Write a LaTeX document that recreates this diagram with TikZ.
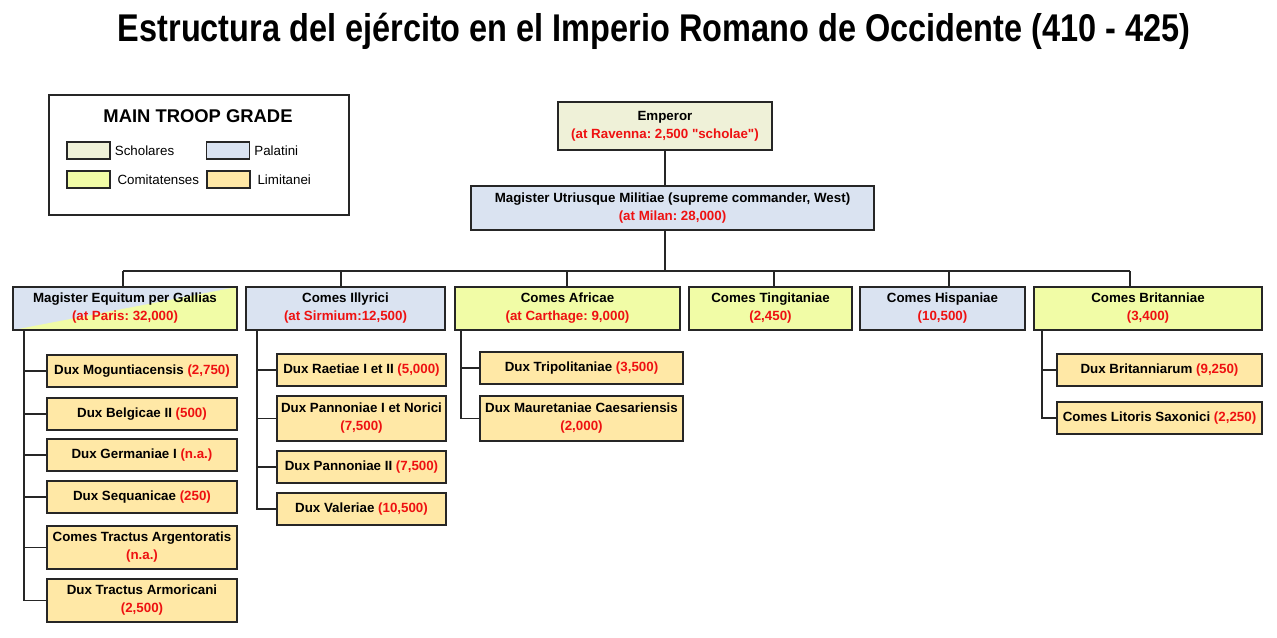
\documentclass[tikz,border=0pt]{standalone}
\usepackage{fontspec}
\setmainfont{Liberation Sans}[Ligatures=TeXOff]
\newfontfamily\titlefont[FakeStretch=0.84]{Liberation Sans}
\usetikzlibrary{positioning}
\frenchspacing

\definecolor{schol}{HTML}{EFF1D8}
\definecolor{palat}{HTML}{DAE3F1}
\definecolor{comit}{HTML}{F1FCA6}
\definecolor{limit}{HTML}{FFE8A6}
\definecolor{troopred}{HTML}{EE1111}
\newcommand{\troops}[1]{\textcolor{troopred}{#1}}

\tikzset{
  unit/.style={draw=black!85, line width=1.4pt, align=center, inner sep=1pt,
    font=\bfseries\fontsize{10}{13.5}\selectfont},
  sz/.style 2 args={minimum width=#1*0.75pt, minimum height=#2*0.75pt},
  link/.style={draw=black!85, line width=1.3pt},
  swatch/.style={draw=black!85, line width=1.2pt, minimum width=32pt,
    minimum height=12.75pt, inner sep=0pt},
  leglabel/.style={font=\fontsize{10}{12}\selectfont, inner sep=0pt},
}

\begin{document}
\begin{tikzpicture}[x=0.75pt, y=-0.75pt]
\useasboundingbox (0,0) rectangle (1277,638);

% title
\node[font=\titlefont\bfseries\fontsize{29}{32}\selectfont] (title) at (654,31)
  {Estructura del ejército en el Imperio Romano de Occidente (410 - 425)};

% legend
\node[draw=black!85, line width=1.2pt, sz={300}{120}] (legend) at (199,155) {};
\node[font=\bfseries\fontsize{13.8}{16}\selectfont] (legtitle) at (198,116) {MAIN TROOP GRADE};
\node[swatch, fill=schol] (sw1) at (88.5,150.5) {};
\node[swatch, fill=palat] (sw2) at (228,150.5) {};
\node[swatch, fill=comit] (sw3) at (88.5,179.5) {};
\node[swatch, fill=limit] (sw4) at (228.5,179.5) {};
\node[leglabel, right=3pt of sw1] (lab1) {Scholares};
\node[leglabel, right=3pt of sw2] (lab2) {Palatini};
\node[leglabel, right=5pt of sw3] (lab3) {Comitatenses};
\node[leglabel, right=5pt of sw4] (lab4) {Limitanei};

% top
\node[unit, fill=schol, sz={214}{48}] (emp) at (665,126)
  {Emperor\\\troops{(at Ravenna: 2,500 "scholae")}};
\node[unit, fill=palat, sz={403}{44}] (mum) at (672.5,208)
  {Magister Utriusque Militiae (supreme commander, West)\\\troops{(at Milan: 28,000)}};

% second row
\node[unit, fill=palat, sz={224}{43}, path picture={
    \fill[comit] (path picture bounding box.south west)
      -- (path picture bounding box.north east)
      -- (path picture bounding box.south east) -- cycle;}] (meg) at (125,308.5)
  {Magister Equitum per Gallias\\\troops{(at Paris: 32,000)}};
\node[unit, fill=palat, sz={199}{43}] (ill) at (345.5,308.5)
  {Comes Illyrici\\\troops{(at Sirmium:12,500)}};
\node[unit, fill=comit, sz={225}{43}] (afr) at (567.5,308.5)
  {Comes Africae\\\troops{(at Carthage: 9,000)}};
\node[unit, fill=comit, sz={163}{43}] (tin) at (770.5,308.5)
  {Comes Tingitaniae\\\troops{(2,450)}};
\node[unit, fill=palat, sz={165}{43}] (his) at (942.5,308.5)
  {Comes Hispaniae\\\troops{(10,500)}};
\node[unit, fill=comit, sz={228}{43}] (bri) at (1148,308.5)
  {Comes Britanniae\\\troops{(3,400)}};

% Gallias
\node[unit, fill=limit, sz={190}{32}] (mog) at (142,371) {Dux Moguntiacensis \troops{(2,750)}};
\node[unit, fill=limit, sz={190}{32}] (bel) at (142,414) {Dux Belgicae II \troops{(500)}};
\node[unit, fill=limit, sz={190}{32}] (ger) at (142,455) {Dux Germaniae I \troops{(n.a.)}};
\node[unit, fill=limit, sz={190}{32}] (seq) at (142,497) {Dux Sequanicae \troops{(250)}};
\node[unit, fill=limit, sz={190}{43}] (arg) at (142,547.5) {Comes Tractus Argentoratis\\\troops{(n.a.)}};
\node[unit, fill=limit, sz={190}{43}] (arm) at (142,600.5) {Dux Tractus Armoricani\\\troops{(2,500)}};

% Illyricum
\node[unit, fill=limit, sz={169}{32}] (rae) at (361.5,370) {Dux Raetiae I et II \troops{(5,000)}};
\node[unit, fill=limit, sz={169}{45}] (pan) at (361.5,418.5) {Dux Pannoniae I et Norici\\\troops{(7,500)}};
\node[unit, fill=limit, sz={169}{32}] (pa2) at (361.5,467) {Dux Pannoniae II \troops{(7,500)}};
\node[unit, fill=limit, sz={169}{32}] (val) at (361.5,509) {Dux Valeriae \troops{(10,500)}};

% Africa
\node[unit, fill=limit, sz={203}{32}] (tri) at (581.5,368) {Dux Tripolitaniae \troops{(3,500)}};
\node[unit, fill=limit, sz={203}{45}] (mau) at (581.5,418.5) {Dux Mauretaniae Caesariensis\\\troops{(2,000)}};

% Britannia
\node[unit, fill=limit, sz={205}{32}] (bru) at (1159.5,370) {Dux Britanniarum \troops{(9,250)}};
\node[unit, fill=limit, sz={205}{32}] (lit) at (1159.5,418) {Comes Litoris Saxonici \troops{(2,250)}};

% connectors
\coordinate (b1) at (123,271);
\coordinate (b2) at (341,271);
\coordinate (b3) at (567,271);
\coordinate (b4) at (774,271);
\coordinate (b5) at (949,271);
\coordinate (b6) at (1130,271);

\draw[link] (emp.south) -- (emp.south |- mum.north);
\draw[link] (emp.south |- mum.south) -- (emp.south |- b1);
\draw[link] (b1) -- (b6);
\foreach \b/\n in {b1/meg, b2/ill, b3/afr, b4/tin, b5/his, b6/bri}
  \draw[link] (\b) -- (\b |- \n.north);

\foreach \c in {mog,bel,ger,seq,arg,arm}
  \draw[link] ([xshift=9pt]meg.south west) |- (\c.west);
\foreach \c in {rae,pan,pa2,val}
  \draw[link] ([xshift=9pt]ill.south west) |- (\c.west);
\foreach \c in {tri,mau}
  \draw[link] ([xshift=5.25pt]afr.south west) |- (\c.west);
\foreach \c in {bru,lit}
  \draw[link] ([xshift=6.75pt]bri.south west) |- (\c.west);
\end{tikzpicture}
\end{document}
